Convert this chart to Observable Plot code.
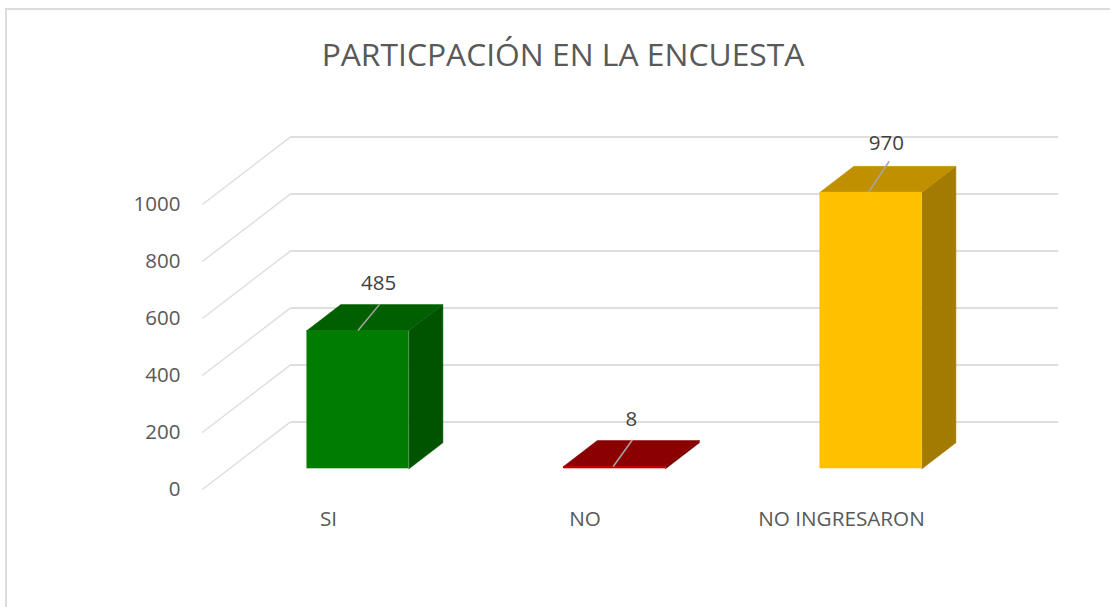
<!DOCTYPE html>
<html>
<head>
<meta charset="utf-8">
<script src="https://cdn.jsdelivr.net/npm/d3@7"></script>
<script src="https://cdn.jsdelivr.net/npm/@observablehq/plot@0.6"></script>
<style>
  html, body { margin: 0; padding: 0; background: #fff; overflow: hidden; width: 1110px; height: 607px; }
  #border { position: absolute; left: 5px; top: 8px; width: 1200px; height: 700px; border: 2px solid #dcdcdc; }
  #chart { position: absolute; left: 0; top: 0; }
  #chart svg { background: none; display: block; }
</style>
</head>
<body>
<div id="border"></div>
<div id="chart"></div>
<script>
const title = "PARTICPACIÓN EN LA ENCUESTA";
const categories = ["SI", "NO", "NO INGRESARON"];
const values = [485, 8, 970];
const yTicks = [0, 200, 400, 600, 800, 1000];

const frontColors = ["#007d00", "#c00000", "#ffc000"];
const topColors   = ["#006000", "#8b0000", "#c09000"];
const sideColors  = ["#005400", "#6e0000", "#a37b00"];

// Oblique projection, in units of the x (bar index) and y (value) scales
const halfBar = 0.199, depthX = 0.132, depthY = 91.2;
const wallBackX = -0.263, wallFrontX = -0.607, wallEndX = 2.73;
const wallBackY = 164.5, wallFrontY = -72.6;
// Leader line ends and label offsets per bar, in scale units
const leaderStart = [0, -0.005, -0.01];
const leaderX = [0.084, 0.07, 0.071], leaderY = [92, 94, 109];
const labelX = [0.08, 0.066, 0.06], labelY = [165, 165, 172];

const idx = values.map((_, i) => i);
const poly = (pts, color) => Plot.line(pts, {
  x: "x", y: "y", fill: color, stroke: color, strokeWidth: 0.5, curve: "linear-closed"
});

const bars = idx.flatMap(i => {
  const v = values[i], l = i - halfBar, r = i + halfBar;
  return [
    poly([{x: r, y: 0}, {x: r + depthX, y: depthY}, {x: r + depthX, y: v + depthY}, {x: r, y: v}], sideColors[i]),
    poly([{x: l, y: v}, {x: l + depthX, y: v + depthY}, {x: r + depthX, y: v + depthY}, {x: r, y: v}], topColors[i]),
    Plot.rectY([i], {x1: d => d - halfBar, x2: d => d + halfBar, y1: 0, y2: d => values[d], fill: frontColors[i]})
  ];
});

const chart = Plot.plot({
  width: 1110,
  height: 607,
  marginLeft: 183,
  marginRight: 0,
  marginTop: 0,
  marginBottom: 100,
  style: {fontFamily: "'Open Sans', sans-serif", background: "none"},
  x: {type: "linear", domain: [0, 2], range: [357.5, 870.5], label: null},
  y: {type: "linear", domain: [0, 1000], range: [468.3, 183.3], label: null},
  marks: [
    // wall grid: horizontal back lines and diagonal side lines
    Plot.link(yTicks, {
      x1: wallBackX, x2: wallEndX,
      y1: d => d + wallBackY, y2: d => d + wallBackY,
      stroke: "#dedede", strokeWidth: 2
    }),
    Plot.link(yTicks, {
      x1: wallFrontX, x2: wallBackX,
      y1: d => d + wallFrontY, y2: d => d + wallBackY,
      stroke: "#dedede", strokeWidth: 1.5
    }),
    ...bars,
    // leader lines
    Plot.link(idx, {
      x1: i => i + leaderStart[i], y1: i => values[i],
      x2: i => i + leaderX[i], y2: i => values[i] + leaderY[i],
      stroke: "#a6a6a6", strokeWidth: 1.5
    }),
    // data labels
    Plot.text(idx, {
      x: i => i + labelX[i], y: i => values[i] + labelY[i],
      text: i => String(values[i]),
      fontSize: 20.5, fill: "#404040", lineAnchor: "middle"
    }),
    Plot.axisY(yTicks, {
      anchor: "left", tickSize: 0, tickPadding: 3, dy: 20.3, label: null,
      tickFormat: d => String(d), fontSize: 20.5, color: "#595959"
    }),
    Plot.axisX(idx, {
      anchor: "bottom", tickSize: 0, tickPadding: 0, dx: -29.5, dy: 3.5, label: null,
      tickFormat: i => categories[i], fontSize: 20.7, color: "#595959"
    }),
    Plot.text([title], {
      frameAnchor: "top", dx: -84, dy: 55.5, lineAnchor: "middle",
      fontSize: 31.8, fill: "#595959"
    })
  ]
});
document.getElementById("chart").appendChild(chart);
</script>
</body>
</html>
